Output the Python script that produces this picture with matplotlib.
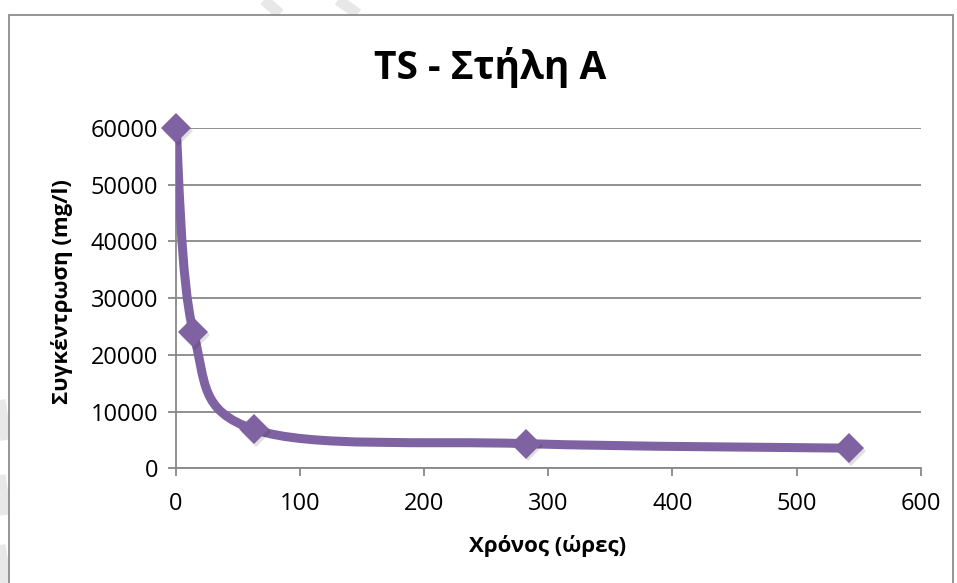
import numpy as np
import matplotlib
matplotlib.use("Agg")
import matplotlib.pyplot as plt
from matplotlib.path import Path
from matplotlib.patches import PathPatch, Rectangle
from matplotlib.lines import Line2D

plt.rcParams['font.family'] = ['Open Sans', 'DejaVu Sans']

# ---- data ----
time_hours = [0, 14, 63, 282, 542]
ts_mg_l = [60000, 24000, 6850, 4350, 3550]
x_ticks = [0, 100, 200, 300, 400, 500, 600]
y_ticks = [0, 10000, 20000, 30000, 40000, 50000, 60000]
title = "TS - Στήλη Α"
xlabel = "Χρόνος (ώρες)"
ylabel = "Συγκέντρωση (mg/l)"

W, H = 957, 583
fig = plt.figure(figsize=(W / 100, H / 100), dpi=100)
fig.patch.set_facecolor('white')

# faint background watermark strokes
for (x0, y0, x1, y1) in [(264, 0, 280, 14), (338, 0, 358, 14), (0, 400, 6, 440), (0, 475, 6, 515), (0, 545, 6, 583)]:
    fig.add_artist(Line2D([x0 / W, x1 / W], [1 - y0 / H, 1 - y1 / H],
                          transform=fig.transFigure, color='#e8e8e8', lw=8, solid_capstyle='butt', zorder=-2))

# chart border
fig.add_artist(Rectangle((9 / W, -0.05), (953 - 9) / W, 1.05 - 15.5 / H,
                         transform=fig.transFigure, fill=True, facecolor='white',
                         edgecolor='#8c8c8c', lw=1.3, zorder=-1))

L, R, B, T = 176, 920.7, 468.3, 128.0
ax = fig.add_axes([L / W, 1 - B / H, (R - L) / W, (B - T) / H])
ax.set_facecolor('none')
ax.set_xlim(0, 600)
ax.set_ylim(0, 60000)
ax.set_xticks(x_ticks)
ax.set_yticks(y_ticks)
ax.set_xticklabels([str(v) for v in x_ticks])
ax.set_yticklabels([str(v) for v in y_ticks])

for s in ['top', 'right']:
    ax.spines[s].set_visible(False)
for s in ['left', 'bottom']:
    ax.spines[s].set_color('#888888')
    ax.spines[s].set_linewidth(1.3)
ax.grid(axis='y', color='#888888', lw=1.3)
ax.set_axisbelow(True)
ax.tick_params(axis='both', direction='out', length=6, width=1.3, color='#888888',
               labelsize=17, labelcolor='black')
ax.tick_params(axis='x', pad=11)
ax.tick_params(axis='y', pad=7)

# Excel-style smoothed line (Catmull-Rom Bezier)
x = np.array(time_hours, float)
y = np.array(ts_mg_l, float)
sx = (R - L) / 600.0
sy = (B - T) / 60000.0
P = np.column_stack([x * sx, y * sy])
n = len(P)
verts = [tuple(P[0])]
codes = [Path.MOVETO]
for i in range(n - 1):
    p0 = P[i - 1] if i > 0 else P[i]
    p1 = P[i]
    p2 = P[i + 1]
    p3 = P[i + 2] if i + 2 < n else P[i + 1]
    c1 = p1 + (p2 - p0) / 6.0
    c2 = p2 - (p3 - p1) / 6.0
    verts += [tuple(c1), tuple(c2), tuple(p2)]
    codes += [Path.CURVE4] * 3
verts = np.array(verts)
verts[:, 0] /= sx
verts[:, 1] /= sy
path = Path(verts, codes)
ax.add_patch(PathPatch(path, facecolor='none', edgecolor='#7f62a1', lw=6.5,
                       capstyle='round', joinstyle='round', zorder=3))

# marker shadow + markers
ax.plot(np.array(time_hours) + 1.5, np.array(ts_mg_l) - 500, linestyle='none', marker='D',
        markersize=15, color='#000000', alpha=0.12, zorder=3.5, markeredgewidth=0, clip_on=False)
ax.plot(time_hours, ts_mg_l, linestyle='none', marker='D', markersize=15,
        color='#7f62a1', markeredgewidth=0, zorder=4, clip_on=False)

fig.text(490 / W, 1 - 67 / H, title, ha='center', va='center', fontsize=28, fontweight='bold')
fig.text(548 / W, 1 - 546 / H, xlabel, ha='center', va='center', fontsize=16, fontweight='bold')
fig.text(62 / W, 1 - 292 / H, ylabel, ha='center', va='center', fontsize=16, fontweight='bold',
         rotation=90)

fig.savefig('out.png', dpi=100, facecolor='white')
